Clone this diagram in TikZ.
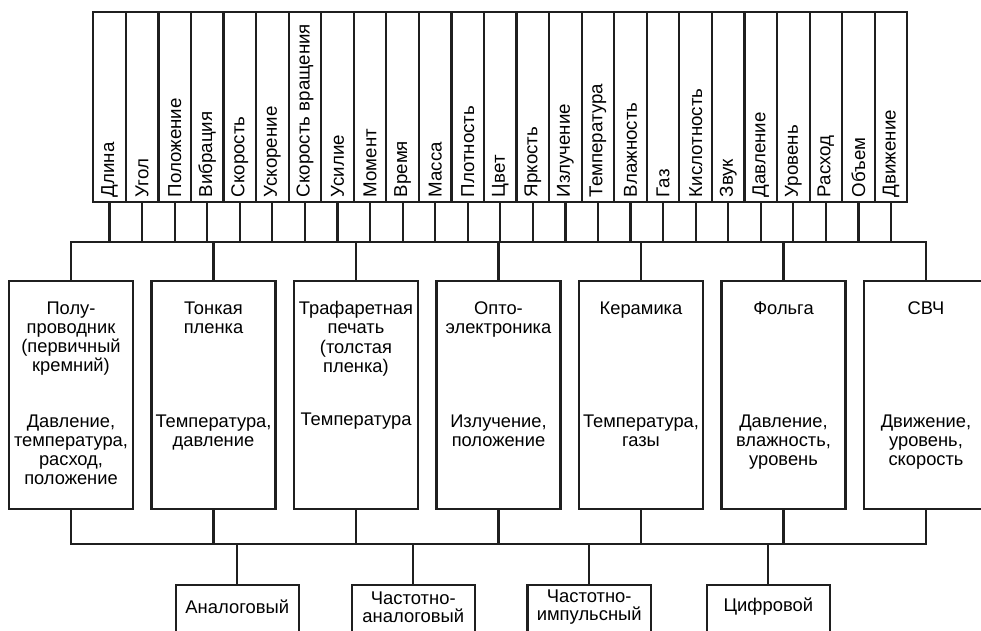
\documentclass[tikz,border=0pt]{standalone}
\usepackage{fontspec}
\setmainfont{Liberation Sans}
\usetikzlibrary{positioning}

\begin{document}
\begin{tikzpicture}[x=1pt,y=-1pt,
    line/.style={draw=black!88,line width=2.2pt},
    txt/.style={inner sep=0pt,font=\fontsize{18.3}{19.1}\selectfont},
    cell/.style={line,minimum width=32.56pt,minimum height=190.6pt,inner sep=0pt},
    quantity/.style={txt,rotate=90,anchor=west,font=\fontsize{18.7}{19.1}\selectfont},
    tech/.style={line,minimum width=124pt,minimum height=228.2pt,inner sep=0pt},
    techtext/.style={txt,align=center,anchor=north},
    output/.style={line,anchor=north,minimum width=123.3pt,minimum height=80pt,inner sep=0pt},
    outtext/.style={txt,align=center,font=\fontsize{18.4}{18.4}\selectfont},
    ]
    \useasboundingbox (0,0) rectangle (981,630);
    \clip (0,0) rectangle (981,630);
    % Measured quantities
    \foreach \q [count=\i] in {Длина,Угол,Положение,Вибрация,Скорость,Ускорение,
        Скорость вращения,Усилие,Момент,Время,Масса,Плотность,Цвет,Яркость,
        Излучение,Температура,Влажность,Газ,Кислотность,Звук,Давление,Уровень,
        Расход,Объем,Движение} {
        \node[cell] (c\i) at (77.02+32.56*\i,107) {};
        \node[quantity] (q\i) at ([yshift=6pt]c\i.south) {\q};
    }
    \coordinate (busA) at (0,242.3);
    \coordinate (busB) at (0,544);

    % Sensor technologies
    \foreach \j in {1,...,7}
        \node[tech] (t\j) at (71+142.5*\j-142.5,394.8) {};
    \node[techtext] (h1) at ([yshift=-21.8pt]t1.north) {Полу-\\проводник\\(первичный\\кремний)};
    \node[techtext] (h2) at ([yshift=-21.8pt]t2.north) {Тонкая\\пленка};
    \node[techtext] (h3) at ([yshift=-21.8pt]t3.north) {Трафаретная\\печать\\(толстая\\пленка)};
    \node[techtext] (h4) at ([yshift=-21.8pt]t4.north) {Опто-\\электроника};
    \node[techtext] (h5) at ([yshift=-21.8pt]t5.north) {Керамика};
    \node[techtext] (h6) at ([yshift=-21.8pt]t6.north) {Фольга};
    \node[techtext] (h7) at ([yshift=-21.8pt]t7.north) {СВЧ};
    \node[techtext] (d1) at ([yshift=-134.7pt]t1.north) {Давление,\\температура,\\расход,\\положение};
    \node[techtext] (d2) at ([yshift=-134.7pt]t2.north) {Температура,\\давление};
    \node[techtext] (d3) at ([yshift=-133pt]t3.north) {Температура};
    \node[techtext] (d4) at ([yshift=-134.7pt]t4.north) {Излучение,\\положение};
    \node[techtext] (d5) at ([yshift=-134.7pt]t5.north) {Температура,\\газы};
    \node[techtext] (d6) at ([yshift=-134.7pt]t6.north) {Давление,\\влажность,\\уровень};
    \node[techtext] (d7) at ([yshift=-134.7pt]t7.north) {Движение,\\уровень,\\скорость};

    % Output signals
    \node[output] (o1) at (237.3,584) {};
    \node[output] (o2) at (413.3,584) {};
    \node[output] (o3) at (589.2,584) {};
    \node[output] (o4) at (768.3,584) {};
    \node[outtext] (s1) at ([yshift=-23pt]o1.north) {Аналоговый};
    \node[outtext] (s2) at ([yshift=-23pt]o2.north) {Частотно-\\аналоговый};
    \node[outtext] (s3) at ([yshift=-23pt]o3.north) {Частотно-\\импульсный};
    \node[outtext] (s4) at ([yshift=-23pt]o4.north) {Цифровой};

    % Upper bus
    \foreach \i in {1,...,25}
        \draw[line] (c\i.south) -- (c\i.south |- busA);
    \draw[line] (t1.north) -- (t1.north |- busA) -- (t7.north |- busA) -- (t7.north);
    \foreach \j in {2,...,6}
        \draw[line] (t\j.north) -- (t\j.north |- busA);
    % Lower bus
    \draw[line] (t1.south) -- (t1.south |- busB) -- (t7.south |- busB) -- (t7.south);
    \foreach \j in {2,...,6}
        \draw[line] (t\j.south) -- (t\j.south |- busB);
    \foreach \k in {1,...,4}
        \draw[line] (o\k.north) -- (o\k.north |- busB);
\end{tikzpicture}
\end{document}
